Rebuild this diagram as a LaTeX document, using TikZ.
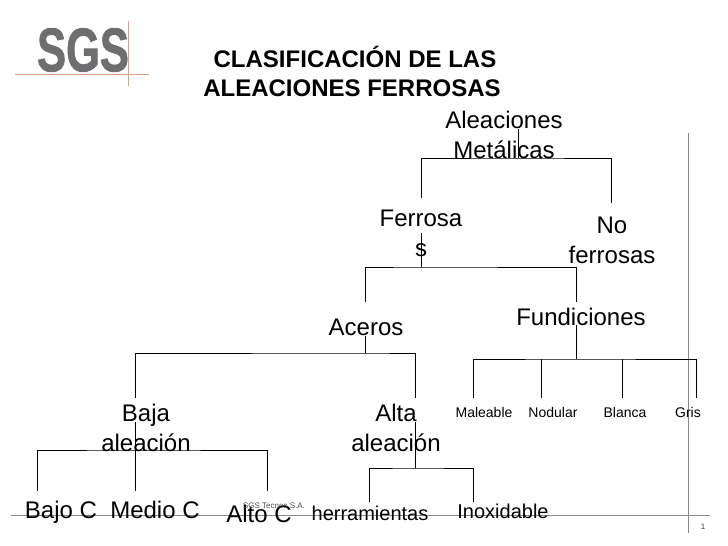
\documentclass[tikz,border=0pt]{standalone}
\usepackage{fontspec}
\setmainfont{Liberation Sans}
\newfontfamily\logofont[FakeBold=1.5]{Liberation Sans Bold}
\usetikzlibrary{positioning}
\definecolor{sgsgrey}{HTML}{6E6E70}
\definecolor{sgsorange}{HTML}{E0A080}
\definecolor{framegrey}{HTML}{8A8A8A}
\tikzset{
  label big/.style={font=\fontsize{24}{30}\selectfont,align=center,inner sep=0pt},
  label mid/.style={font=\fontsize{20}{24}\selectfont,align=center,inner sep=0pt},
  label small/.style={font=\fontsize{14}{16}\selectfont,align=center,inner sep=0pt},
  branch/.style={black,line width=0.9pt},
  frame line/.style={framegrey,line width=0.8pt},
}
\begin{document}
\begin{tikzpicture}[x=1pt,y=-1pt]
  \useasboundingbox (0,0) rectangle (728,546);
  % logo
  \node[font=\logofont\fontsize{58}{58}\selectfont,text=sgsgrey,inner sep=0pt,xscale=0.75,yscale=1.06] (logo) at (83,50) {SGS};
  \coordinate (logoL) at (15,74);
  \coordinate (logoR) at (149,74);
  \coordinate (logoT) at (128,21);
  \coordinate (logoB) at (128,86);
  \draw[sgsorange,line width=0.7pt] (logoL) -- (logoR);
  \draw[sgsorange,line width=0.7pt] (logoT) -- (logoB);
  % frame
  \coordinate (frameL) at (11,515);
  \coordinate (frameR) at (710,515);
  \coordinate (frameT) at (688,133);
  \coordinate (frameB) at (688,533);
  \draw[frame line] (frameL) -- (frameR);
  \draw[frame line] (frameT) -- (frameB);
  \node[font=\fontsize{8}{9}\selectfont,text=black!75,inner sep=0pt] (page) at (703,527) {1};
  % title
  \node[font=\bfseries\fontsize{24}{29}\selectfont,align=center,inner sep=0pt] (title) at (352,71) {\hspace*{6pt}CLASIFICACIÓN DE LAS\\ALEACIONES FERROSAS};
  % nodes
  \node[label big] (metal) at (504,135) {Aleaciones\\Metálicas};
  \node[label big] (ferrosas) at (421,233) {Ferrosa\\s};
  \node[label big] (noferrosas) at (612,240) {No\\ferrosas};
  \node[label big] (aceros) at (366,327) {Aceros};
  \node[label big] (fundiciones) at (581,317) {Fundiciones};
  \node[label big] (baja) at (146,428) {Baja\\aleación};
  \node[label big] (alta) at (396,428) {Alta\\aleación};
  \node[label small] (maleable) at (484,412) {Maleable};
  \node[label small] (nodular) at (553,412) {Nodular};
  \node[label small] (blanca) at (625,412) {Blanca};
  \node[label small] (gris) at (688,412) {Gris};
  \node[label big,anchor=base] (bajoc) at (61,518) {Bajo C};
  \node[label big,anchor=base] (medioc) at (155,518) {Medio C};
  \node[label big,anchor=base] (altoc) at (259,522) {Alto C};
  \node[font=\fontsize{8}{9}\selectfont,text=black!70,inner sep=0pt] (tecnos) at (274,506) {SGS Tecnos S.A.};
  \node[label mid,anchor=base] (herramientas) at (370,520) {herramientas};
  \node[label mid,anchor=base] (inoxidable) at (503,518) {Inoxidable};
  % junctions and free ends
  \coordinate (metalS) at (518,129);
  \coordinate (metalJ) at (518,158);
  \coordinate (ferrosasT) at (421,198);
  \coordinate (noferrosasT) at (611,203);
  \coordinate (ferrosasS) at (421,233);
  \coordinate (ferrosasJ) at (421,267);
  \coordinate (acerosT) at (365,302);
  \coordinate (fundicionesT) at (576,302);
  \coordinate (acerosS) at (365,336);
  \coordinate (acerosJ) at (365,353);
  \coordinate (bajaT) at (135,398);
  \coordinate (altaT) at (415,398);
  \coordinate (fundicionesS) at (576,325);
  \coordinate (fundicionesJ) at (576,359);
  \coordinate (maleableT) at (473,398);
  \coordinate (nodularT) at (541,398);
  \coordinate (nodularJ) at (541,359);
  \coordinate (blancaT) at (622,398);
  \coordinate (blancaJ) at (622,359);
  \coordinate (grisT) at (696,398);
  \coordinate (bajaS) at (135,422);
  \coordinate (bajaJ) at (135,450);
  \coordinate (bajocT) at (37,491);
  \coordinate (mediocT) at (135,491);
  \coordinate (altocT) at (267,491);
  \coordinate (altaS) at (415,422);
  \coordinate (altaJ) at (415,468);
  \coordinate (herramientasT) at (369,502);
  \coordinate (inoxidableT) at (473,502);
  % connectors
  \draw[branch] (metalS) -- (metalJ);
  \draw[branch] (ferrosasT) |- (metalJ) -| (noferrosasT);
  \draw[branch] (ferrosasS) -- (ferrosasJ);
  \draw[branch] (acerosT) |- (ferrosasJ) -| (fundicionesT);
  \draw[branch] (acerosS) -- (acerosJ);
  \draw[branch] (bajaT) |- (acerosJ) -| (altaT);
  \draw[branch] (fundicionesS) -- (fundicionesJ);
  \draw[branch] (maleableT) |- (fundicionesJ) -| (grisT);
  \draw[branch] (nodularJ) -- (nodularT);
  \draw[branch] (blancaJ) -- (blancaT);
  \draw[branch] (bajaS) -- (mediocT);
  \draw[branch] (bajocT) |- (bajaJ) -| (altocT);
  \draw[branch] (altaS) -- (altaJ);
  \draw[branch] (herramientasT) |- (altaJ) -| (inoxidableT);
\end{tikzpicture}
\end{document}
